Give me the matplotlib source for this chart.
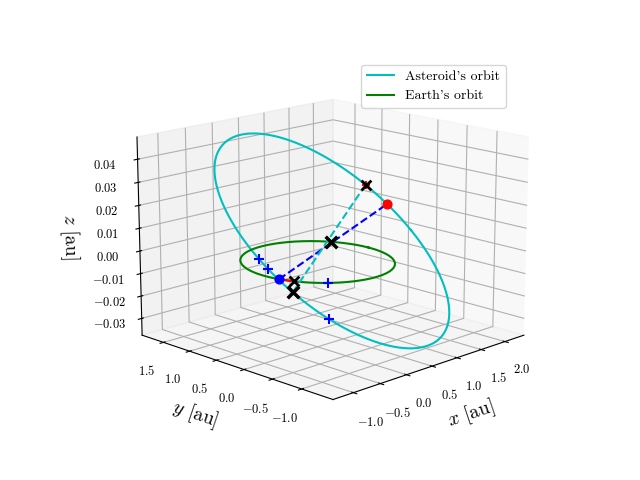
import numpy as np
import matplotlib
matplotlib.use("Agg")
import matplotlib.pyplot as plt

plt.rcParams.update({"font.family": "serif", "font.serif": ["cmr10"],
                     "mathtext.fontset": "cm", "axes.formatter.use_mathtext": True})

# Asteroid orbit: centre and phasor amplitudes/phases
ast_center = [0.52, 0.2, 0.006]
ast_amp = [1.65, 1.5, 0.038]
ast_phase_deg = [0.0, 88.0, 100.0]
earth_radius = 1.0

# marker positions: parameters along the orbits (deg)
ast_red_t = 345.0
ast_xs_t = [333.0, 155.0]
ast_plus_t = [173.0, 168.0, 138.0]
earth_blue_t = 194.0
earth_smallx_t = 206.0
earth_bigx_t = 32.0
earth_plus_t = [230.0]

def ast_point(t):
    t = np.radians(t)
    return np.array([c + a * np.cos(t + np.radians(p))
                     for c, a, p in zip(ast_center, ast_amp, ast_phase_deg)])

def earth_point(t):
    t = np.radians(t)
    return np.array([earth_radius * np.cos(t), earth_radius * np.sin(t), 0.0])

fig = plt.figure(figsize=(6.4, 4.8), dpi=100)
ax = fig.add_subplot(projection="3d")

th = np.linspace(0, 360, 400)
A = np.array([ast_point(t) for t in th])
E = np.array([earth_point(t) for t in th])
ax.plot(A[:, 0], A[:, 1], A[:, 2], color="c", label="Asteroid's orbit")
ax.plot(E[:, 0], E[:, 1], E[:, 2], color="g", label="Earth's orbit")

pe = earth_point(earth_blue_t)
pr = ast_point(ast_red_t)
ax.plot([pe[0], pr[0]], [pe[1], pr[1]], [pe[2], pr[2]], "b--")
x1, x2 = ast_point(ast_xs_t[0]), ast_point(ast_xs_t[1])
ax.plot([x1[0], x2[0]], [x1[1], x2[1]], [x1[2], x2[2]], "c--")
pxe = earth_point(earth_smallx_t)
ax.plot([pe[0], pxe[0]], [pe[1], pxe[1]], [0, 0], color="r")
ax.scatter(*pe, color="b", s=40, depthshade=False)
ax.scatter(*pr, color="r", s=40, depthshade=False)
pbx = earth_point(earth_bigx_t)
ax.scatter(*pbx, color="k", marker="x", s=70, linewidths=2.5, depthshade=False)
ax.scatter(*x2, color="k", marker="x", s=70, linewidths=2.5, depthshade=False)
ax.scatter(*x1, color="r", marker="+", s=40, depthshade=False)
ax.scatter(*x1, color="k", marker="x", s=50, linewidths=2, depthshade=False)
ax.scatter(*pxe, color="k", marker="x", s=50, linewidths=2, depthshade=False)
for t in ast_plus_t:
    ax.scatter(*ast_point(t), color="b", marker="+", s=60, depthshade=False)
for t in earth_plus_t:
    ax.scatter(*earth_point(t), color="b", marker="+", s=60, depthshade=False)

ax.set_xticks([-1.0, -0.5, 0.0, 0.5, 1.0, 1.5, 2.0])
ax.set_yticks([-1.0, -0.5, 0.0, 0.5, 1.0, 1.5])
ax.set_zticks([-0.03, -0.02, -0.01, 0.0, 0.01, 0.02, 0.03, 0.04])
ax.set_xlabel(r"$x$ [au]", fontsize=14)
ax.set_ylabel(r"$y$ [au]", fontsize=14)
ax.set_zlabel(r"$z$ [au]", fontsize=14)
ax.tick_params(labelsize=9)
ax.view_init(elev=15, azim=-135)
ax.set_box_aspect(None, zoom=1.15)
ax.legend(loc="upper right")
fig.savefig("out.png", dpi=100)
